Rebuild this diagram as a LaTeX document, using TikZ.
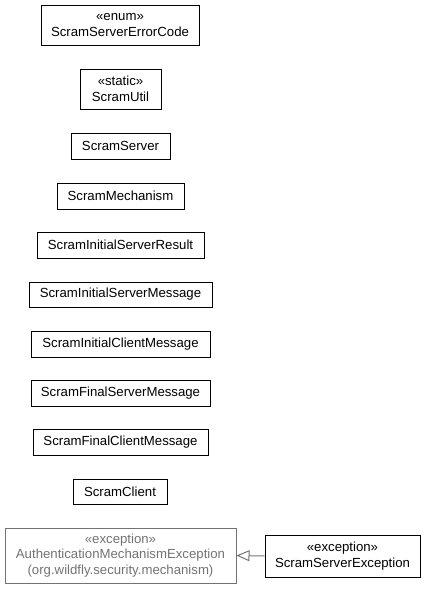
\documentclass[tikz,border=0pt]{standalone}
\usepackage{fontspec}
\setmainfont{Liberation Sans}
\usetikzlibrary{arrows.meta}
\definecolor{grayc}{HTML}{737373}
\tikzset{
  cls/.style={draw=black, line width=1pt, inner sep=0pt, align=center,
    font=\fontsize{13.2}{15.5}\selectfont, text=black},
  ext/.style={cls, draw=grayc, text=grayc},
  gen/.style={draw=grayc, line width=1pt, -{Triangle[open, length=13pt, width=11pt]}}
}
\begin{document}
\begin{tikzpicture}[x=1pt,y=-1pt]
\useasboundingbox (0,0) rectangle (427,589);
\node[cls, minimum width=158pt, minimum height=40pt] (errc) at (120,25) {«enum»\\ScramServerErrorCode};
\node[cls, minimum width=81pt, minimum height=40pt] (util) at (120.5,89) {«static»\\ScramUtil};
\node[cls, minimum width=99pt, minimum height=26pt] (srv) at (120.5,146) {ScramServer};
\node[cls, minimum width=127pt, minimum height=26pt] (mech) at (120.5,196) {ScramMechanism};
\node[cls, minimum width=167pt, minimum height=26pt] (isr) at (120.5,245) {ScramInitialServerResult};
\node[cls, minimum width=183pt, minimum height=25pt] (ism) at (120.5,294.5) {ScramInitialServerMessage};
\node[cls, minimum width=179pt, minimum height=26pt] (icm) at (120.5,344) {ScramInitialClientMessage};
\node[cls, minimum width=179pt, minimum height=26pt] (fsm) at (120.5,393) {ScramFinalServerMessage};
\node[cls, minimum width=175pt, minimum height=26pt] (fcm) at (120.5,442) {ScramFinalClientMessage};
\node[cls, minimum width=94pt, minimum height=25pt] (cli) at (120,491.5) {ScramClient};
\node[ext, minimum width=231pt, minimum height=55pt] (ame) at (120.5,555.5) {«exception»\\AuthenticationMechanismException\\(org.wildfly.security.mechanism)};
\node[cls, minimum width=155pt, minimum height=42pt] (sse) at (342.5,556) {«exception»\\ScramServerException};
\draw[gen] (sse.west) -- (ame.east);
\end{tikzpicture}
\end{document}
